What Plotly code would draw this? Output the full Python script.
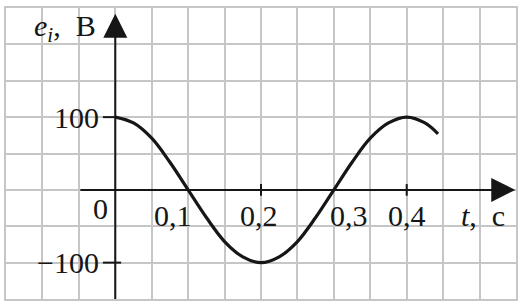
import plotly.graph_objects as go

# data
t_vals = [0.0, 0.025, 0.05, 0.075, 0.1, 0.125, 0.15, 0.175, 0.2, 0.225, 0.25,
          0.275, 0.3, 0.325, 0.35, 0.375, 0.4, 0.425, 0.443]
e_vals = [100, 92, 71, 38, 0, -38, -71, -92, -100, -92, -71,
          -38, 0, 38, 71, 92, 100, 92, 77]
x_tick_vals = [0.1, 0.2, 0.3, 0.4]
x_tick_text = ["0,1", "0,2", "0,3", "0,4"]
x_tick_label_pos = [0.0796, 0.1976, 0.321, 0.4008]
y_tick_vals = [100, -100]
y_tick_text = ["100", "−100"]

FONT = "Liberation Serif"
FS = 30
GRID = "#c6c6c6"
INK = "#161616"

fig = go.Figure()
fig.add_trace(go.Scatter(x=t_vals, y=e_vals, mode="lines",
                         line=dict(color=INK, width=3.2, shape="spline"),
                         hoverinfo="skip", showlegend=False))

ann = []
# axes arrows
ann.append(dict(x=0.549, y=0, ax=-0.05, ay=0, xref="x", yref="y", axref="x", ayref="y",
                showarrow=True, arrowhead=2, arrowsize=2.4, arrowwidth=2, arrowcolor=INK, text=""))
ann.append(dict(x=0, y=242, ax=0, ay=-152, xref="x", yref="y", axref="x", ayref="y",
                showarrow=True, arrowhead=2, arrowsize=2.4, arrowwidth=2, arrowcolor=INK, text=""))
for xv, tx in zip(x_tick_label_pos, x_tick_text):
    ann.append(dict(x=xv, y=-35, xref="x", yref="y", text=tx, showarrow=False,
                    xanchor="center", yanchor="middle", font=dict(family=FONT, size=FS, color=INK)))
for yv, tx in zip(y_tick_vals, y_tick_text):
    ann.append(dict(x=-0.019, y=yv, xref="x", yref="y", text=tx, showarrow=False,
                    xanchor="right", yanchor="middle", font=dict(family=FONT, size=FS, color=INK)))
ann.append(dict(x=-0.0206, y=-26, xref="x", yref="y", text="0", showarrow=False,
                xanchor="center", yanchor="middle", font=dict(family=FONT, size=FS, color=INK)))
ann.append(dict(x=0.505, y=-35, xref="x", yref="y", text="<i>t</i>,&nbsp;&nbsp;c", showarrow=False,
                xanchor="center", yanchor="middle", font=dict(family=FONT, size=FS, color=INK)))
ann.append(dict(x=-0.0686, y=222, xref="x", yref="y", text="<i>e</i><sub><i>i</i></sub>,&nbsp;&nbsp;B", showarrow=False,
                xanchor="center", yanchor="middle", font=dict(family=FONT, size=FS, color=INK)))

shapes = []
for xv in [0.2, 0.4]:
    shapes.append(dict(type="line", x0=xv, x1=xv, y0=-8, y1=8, xref="x", yref="y",
                       line=dict(color=INK, width=2)))
shapes.append(dict(type="line", x0=-0.017, x1=0, y0=100, y1=100, xref="x", yref="y",
                   line=dict(color=INK, width=2)))
shapes.append(dict(type="line", x0=-0.017, x1=0.008, y0=-100, y1=-100, xref="x", yref="y",
                   line=dict(color=INK, width=2)))

fig.update_layout(
    width=525, height=306, margin=dict(l=6, r=9, t=6, b=7),
    paper_bgcolor="white", plot_bgcolor="white",
    annotations=ann, shapes=shapes,
    xaxis=dict(range=[-0.15, 0.55], dtick=0.05, tick0=0, showgrid=True, gridcolor=GRID, gridwidth=2,
               showticklabels=False, ticks="", zeroline=False, showline=True, linecolor=GRID,
               linewidth=2, mirror=True, fixedrange=True),
    yaxis=dict(range=[-150, 250], dtick=50, tick0=0, showgrid=True, gridcolor=GRID, gridwidth=2,
               showticklabels=False, ticks="", zeroline=False, showline=True, linecolor=GRID,
               linewidth=2, mirror=True, fixedrange=True),
)
fig.write_html("out.html")
